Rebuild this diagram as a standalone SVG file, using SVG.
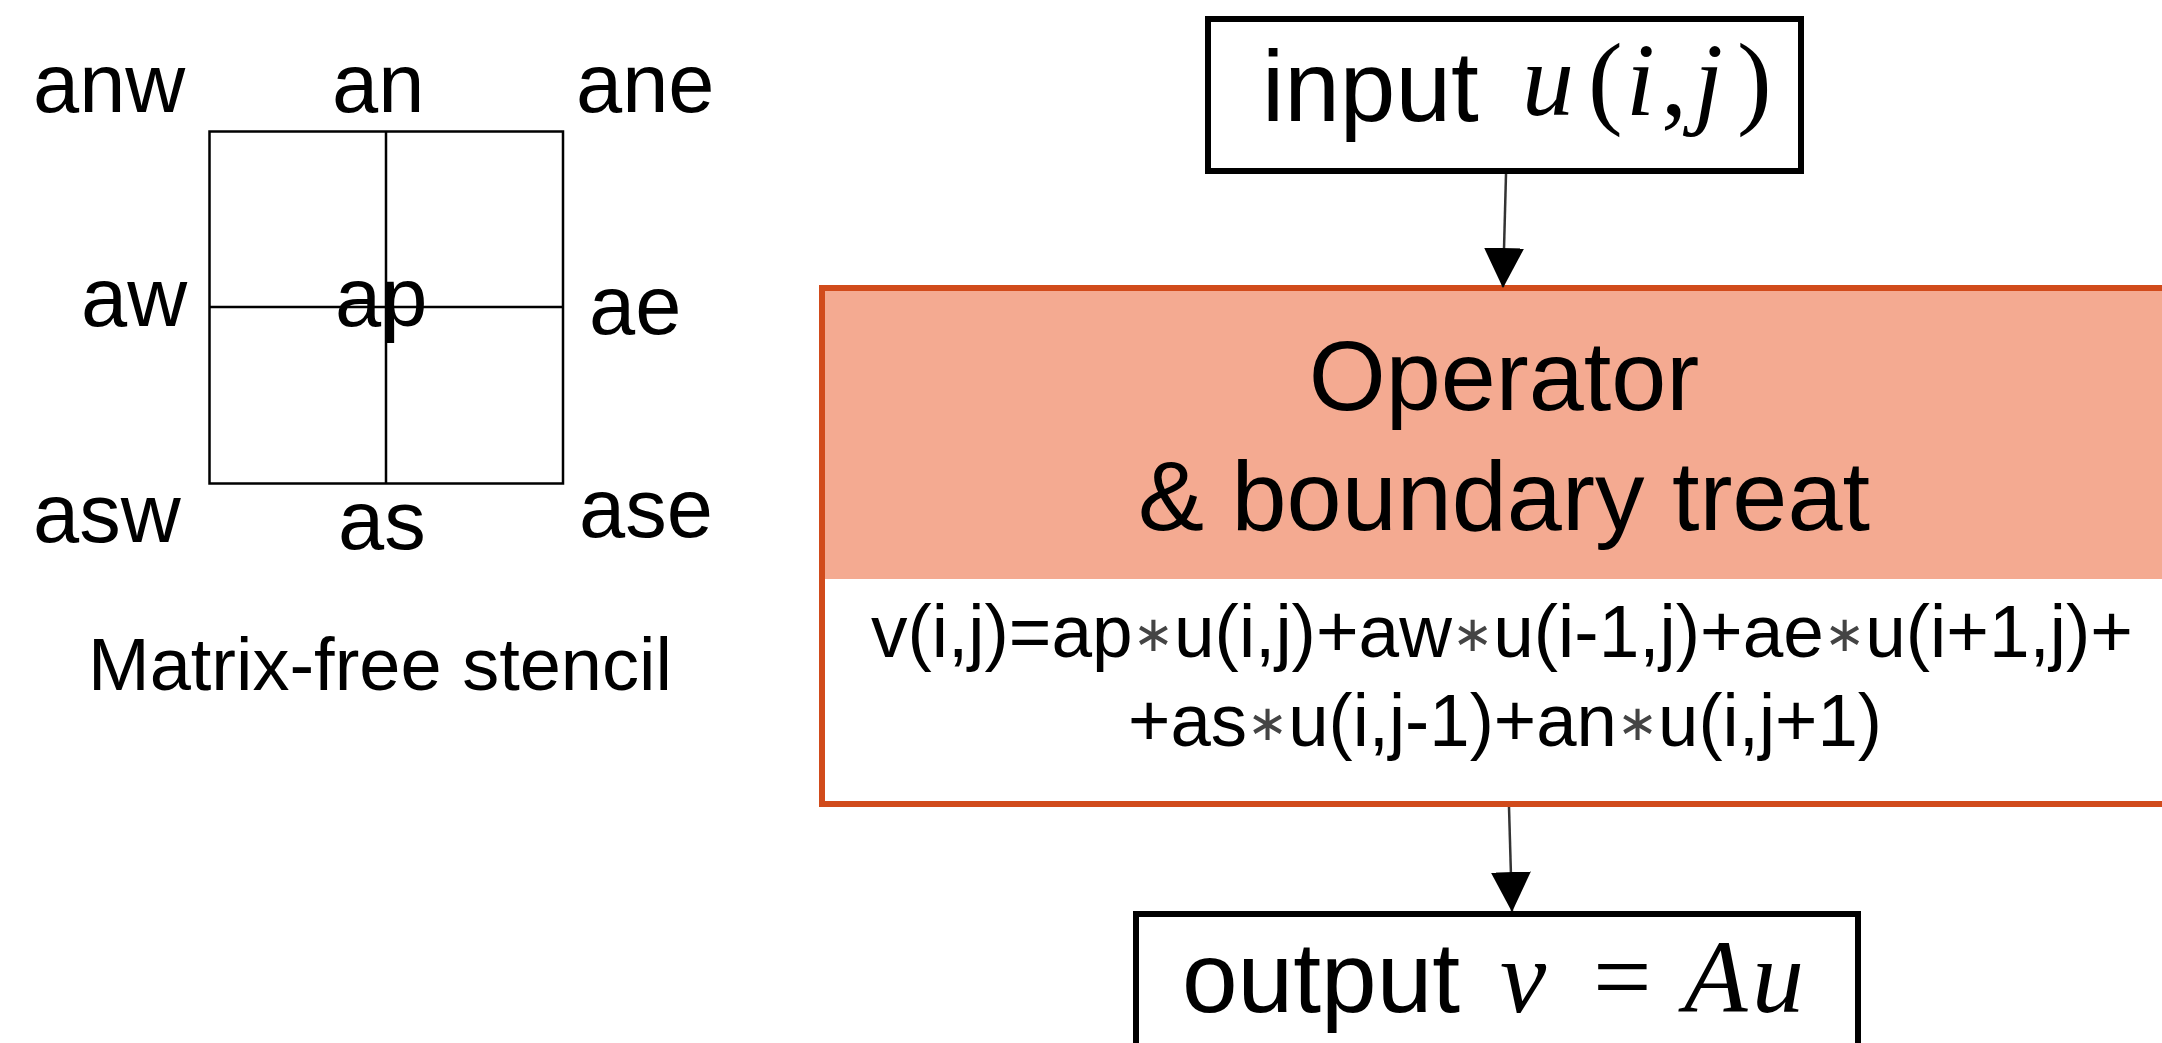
<svg xmlns="http://www.w3.org/2000/svg" width="2162" height="1043" viewBox="0 0 2162 1043">
  <style>
    .sans { font-family: "Liberation Sans", Arial, sans-serif; fill: #000; }
    .math { font-family: "Liberation Serif", "Times New Roman", serif; fill: #000; }
    .it { font-style: italic; }
    .lbl { font-size: 83px; }
    .big { font-size: 100px; }
    .ast { font-family: "DejaVu Sans", sans-serif; font-size: 50px; fill: #444; baseline-shift: 6px; }
    .frame { fill: #fff; stroke: #000; stroke-width: 6; }
    .grid { fill: none; stroke: #000; stroke-width: 2.5; }
    .conn { stroke: #333; stroke-width: 2.5; fill: none; }
  </style>
  <defs>
    <marker id="head" markerUnits="userSpaceOnUse" markerWidth="40" markerHeight="40" viewBox="0 0 38 38" refX="37" refY="19" orient="auto">
      <path d="M0,0 L38,19 L0,38 z" fill="#000"/>
    </marker>
  </defs>
  <rect width="2162" height="1043" fill="#fff"/>

  <!-- five-point stencil -->
  <g id="stencil">
    <rect class="grid" x="209.5" y="131.5" width="353.5" height="352"/>
    <line class="grid" x1="386" y1="131.5" x2="386" y2="483.5"/>
    <line class="grid" x1="209.5" y1="307" x2="563" y2="307"/>
    <text class="sans lbl" x="33" y="112">anw</text>
    <text class="sans lbl" x="332" y="112">an</text>
    <text class="sans lbl" x="576" y="112">ane</text>
    <text class="sans lbl" x="81" y="326">aw</text>
    <text class="sans lbl" x="335" y="326">ap</text>
    <text class="sans lbl" x="589" y="334">ae</text>
    <text class="sans lbl" x="33" y="542">asw</text>
    <text class="sans lbl" x="338" y="549">as</text>
    <text class="sans lbl" x="579" y="537">ase</text>
    <text class="sans" x="88" y="690" font-size="74">Matrix-free stencil</text>
  </g>

  <!-- input vector -->
  <g id="input">
    <rect class="frame" x="1208" y="19" width="593" height="152"/>
    <text class="sans big" x="1262" y="121">input</text>
    <text class="math" font-size="104" y="115"><tspan class="it" x="1522">u</tspan><tspan x="1588">(</tspan><tspan class="it" x="1626">i</tspan><tspan x="1661">,</tspan><tspan class="it" x="1694">j</tspan><tspan x="1737">)</tspan></text>
  </g>

  <!-- operator block -->
  <g id="operator">
    <rect x="822" y="288" width="1400" height="516" fill="#fff" stroke="#D14B1B" stroke-width="6"/>
    <rect x="825" y="291" width="1397" height="288" fill="#F4AA91"/>
    <text class="sans" font-size="99" x="1504" y="410" text-anchor="middle">Operator</text>
    <text class="sans" font-size="99" x="1504" y="530" text-anchor="middle">&amp; boundary treat</text>
    <text class="sans" font-size="74" x="871" y="657" textLength="1262" lengthAdjust="spacingAndGlyphs">v(i,j)=ap<tspan class="ast">∗</tspan>u(i,j)+aw<tspan class="ast">∗</tspan>u(i-1,j)+ae<tspan class="ast">∗</tspan>u(i+1,j)+</text>
    <text class="sans" font-size="74" x="1128" y="746" textLength="754" lengthAdjust="spacingAndGlyphs">+as<tspan class="ast">∗</tspan>u(i,j-1)+an<tspan class="ast">∗</tspan>u(i,j+1)</text>
  </g>

  <!-- output vector -->
  <g id="output">
    <rect class="frame" x="1136" y="914" width="722" height="200"/>
    <text class="sans big" x="1182" y="1012">output</text>
    <text class="math" font-size="104" y="1012"><tspan class="it" x="1500">v</tspan><tspan x="1593">=</tspan><tspan class="it" x="1684">A</tspan><tspan class="it" x="1752">u</tspan></text>
  </g>

  <!-- data flow -->
  <g id="connectors">
    <line class="conn" x1="1506" y1="174" x2="1503" y2="287" marker-end="url(#head)"/>
    <line class="conn" x1="1509" y1="807" x2="1512" y2="911" marker-end="url(#head)"/>
  </g>
</svg>
